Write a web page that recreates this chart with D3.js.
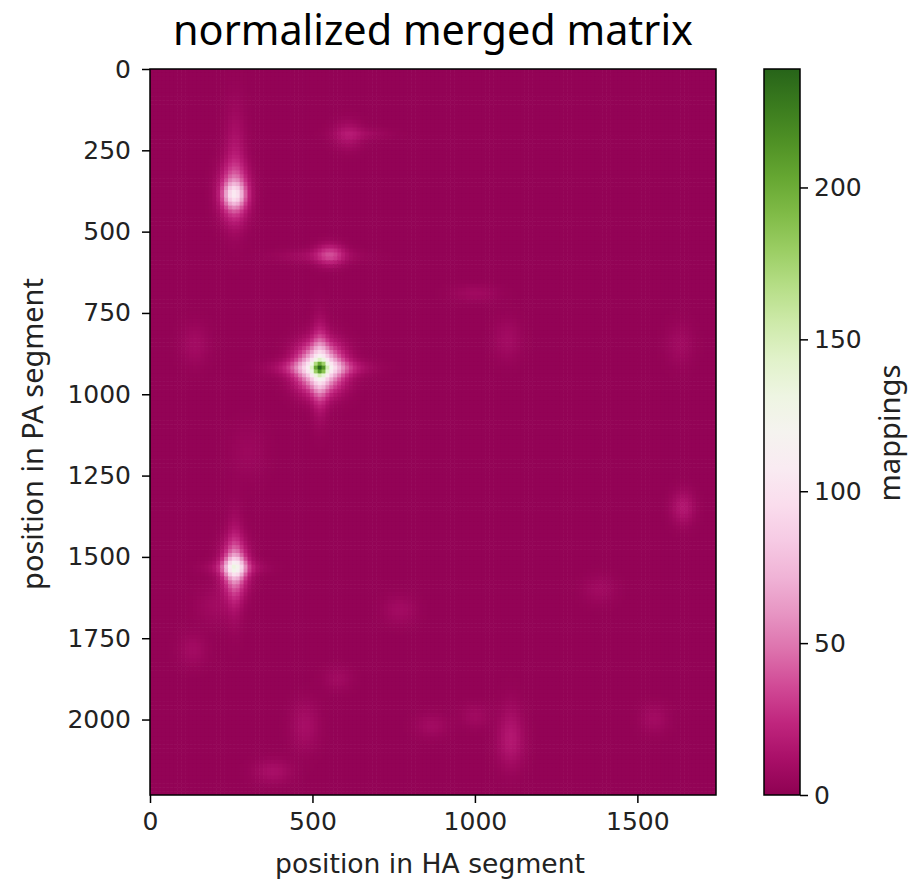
<!DOCTYPE html>
<html lang="en">
<head>
    <meta charset="UTF-8">
    <title>normalized merged matrix</title>
    <script src="https://d3js.org/d3.v7.min.js"></script>
    <style>
        body { margin: 0; background: #fff; }
        svg { display: block; }
    </style>
</head>
<body>
    <script>
        // axis extents and tick labels
        const xMax = 1742;   // HA segment length
        const yMax = 2232;   // PA segment length
        const vMax = 239;    // colour scale max (mappings)
        const xTicks = [0, 500, 1000, 1500];
        const yTicks = [0, 250, 500, 750, 1000, 1250, 1500, 1750, 2000];
        const cbTicks = [0, 50, 100, 150, 200];
        const baseValue = 2;

        // hot spots: centre (HA, PA), peak mappings, spread
        const spotX    = [523, 523, 523, 523,  259, 259, 262,  261, 261, 261, 261,  554, 520,  609, 650,  1640, 138, 1100, 1630, 1000, 477, 378, 1110, 867, 132, 578, 1552, 768, 1383, 1110, 1000, 300, 200];
        const spotY    = [919, 919, 919, 919,  387, 380, 300,  1533, 1533, 1533, 1533,  571, 575,  203, 200,  1349, 848, 833, 848, 690, 2019, 2160, 2075, 2019, 1786, 1875, 1998, 1663, 1601, 2030, 1990, 1180, 1650];
        const spotPeak = [70,  100, 38,  38,   50,  45,  14,   52,  45,  18,  16,    28,  8,    12,  6,    14,   7,   7,   6,   6,   9,   10,  9,   7,   7,   6,   7,   7,   6,   7,   6,   4,   6];
        const spotSx   = [12,  46,  78,  16,   22,  30,  22,   22,  28,  16,  55,    30,  90,   30,  60,   25,   30,  30,  30,  50,  30,  40,  30,  35,  30,  30,  30,  35,  35,  25,  30,  40,  40];
        const spotSy   = [12,  48,  16,  82,   24,  55,  120,  22,  55,  100, 15,    22,  14,   30,  12,   35,   45,  45,  45,  18,  50,  25,  55,  25,  35,  25,  30,  30,  30,  65,  25,  60,  40];

        const W = 912, H = 881;
        const plot = { left: 150, top: 69, right: 716, bottom: 795 };
        const cb = { left: 764, right: 800 };

        const svg = d3.select("body")
            .append("svg")
            .attr("width", W)
            .attr("height", H);

        const x = d3.scaleLinear().domain([0, xMax]).range([plot.left, plot.right]);
        const y = d3.scaleLinear().domain([0, yMax]).range([plot.top, plot.bottom]);
        const color = d3.scaleSequential(d3.interpolatePiYG).domain([0, vMax]);

        // build matrix cells from the spots
        const step = 12;
        const cells = [];
        for (let py = 0; py < yMax; py += step) {
            for (let px = 0; px < xMax; px += step) {
                const cx = px + step / 2, cy = py + step / 2;
                let v = baseValue;
                for (let i = 0; i < spotX.length; i++) {
                    const dx = (cx - spotX[i]) / spotSx[i];
                    const dy = (cy - spotY[i]) / spotSy[i];
                    v += spotPeak[i] * Math.exp(-0.5 * (dx * dx + dy * dy));
                }
                cells.push({ px, py, v: Math.min(v, vMax) });
            }
        }

        const defs = svg.append("defs");
        defs.append("clipPath").attr("id", "plotClip")
            .append("rect")
            .attr("x", plot.left).attr("y", plot.top)
            .attr("width", plot.right - plot.left).attr("height", plot.bottom - plot.top);

        svg.append("g")
            .attr("clip-path", "url(#plotClip)")
            .selectAll("rect")
            .data(cells)
            .join("rect")
            .attr("x", d => x(d.px))
            .attr("y", d => y(d.py))
            .attr("width", x(step) - x(0) + 0.6)
            .attr("height", y(step) - y(0) + 0.6)
            .attr("fill", d => color(d.v));

        // axes
        const tickFont = "DejaVu Sans";
        const xAxis = svg.append("g")
            .attr("transform", `translate(0,${plot.bottom})`)
            .call(d3.axisBottom(x).tickValues(xTicks).tickSize(8).tickPadding(9).tickFormat(d3.format("d")));
        const yAxis = svg.append("g")
            .attr("transform", `translate(${plot.left},0)`)
            .call(d3.axisLeft(y).tickValues(yTicks).tickSize(8).tickPadding(11).tickFormat(d3.format("d")));
        [xAxis, yAxis].forEach(a => {
            a.select(".domain").remove();
            a.selectAll(".tick line").attr("stroke", "#000").attr("stroke-width", 1.5);
            a.selectAll(".tick text").attr("fill", "#222").style("font-family", tickFont).style("font-size", "25px");
        });

        svg.append("rect")
            .attr("x", plot.left).attr("y", plot.top)
            .attr("width", plot.right - plot.left).attr("height", plot.bottom - plot.top)
            .attr("fill", "none").attr("stroke", "#000").attr("stroke-width", 1.5);

        // colorbar
        const cbScale = d3.scaleLinear().domain([0, vMax]).range([plot.bottom, plot.top]);
        const grad = defs.append("linearGradient")
            .attr("id", "cbGrad")
            .attr("x1", 0).attr("y1", 1).attr("x2", 0).attr("y2", 0);
        d3.range(0, 1.0001, 0.05).forEach(t => {
            grad.append("stop").attr("offset", t).attr("stop-color", color(t * vMax));
        });
        svg.append("rect")
            .attr("x", cb.left).attr("y", plot.top)
            .attr("width", cb.right - cb.left).attr("height", plot.bottom - plot.top)
            .attr("fill", "url(#cbGrad)")
            .attr("stroke", "#000").attr("stroke-width", 1.5);
        const cbAxis = svg.append("g")
            .attr("transform", `translate(${cb.right},0)`)
            .call(d3.axisRight(cbScale).tickValues(cbTicks).tickSize(8).tickPadding(6));
        cbAxis.select(".domain").remove();
        cbAxis.selectAll(".tick line").attr("stroke", "#000").attr("stroke-width", 1.5);
        cbAxis.selectAll(".tick text").attr("fill", "#222").style("font-family", tickFont).style("font-size", "25px");

        // fit a text element to a measured width from the picture
        function fit(sel, width) {
            const len = sel.node().getComputedTextLength();
            const fs = parseFloat(sel.style("font-size"));
            sel.style("font-size", (fs * width / len) + "px");
        }

        const title = svg.append("text")
            .attr("x", (plot.left + plot.right) / 2).attr("y", 45)
            .attr("text-anchor", "middle")
            .style("font-family", "Noto Sans").style("font-size", "36px")
            .attr("fill", "#000")
            .text("normalized merged matrix");
        fit(title, 520);

        const xLabel = svg.append("text")
            .attr("x", 430).attr("y", 873)
            .attr("text-anchor", "middle")
            .style("font-family", "DejaVu Sans").style("font-size", "25px")
            .attr("fill", "#222")
            .text("position in HA segment");
        fit(xLabel, 310);

        const yLabel = svg.append("text")
            .attr("transform", "translate(43,434) rotate(-90)")
            .attr("text-anchor", "middle")
            .style("font-family", "Noto Sans").style("font-size", "25px")
            .attr("fill", "#222")
            .text("position in PA segment");
        fit(yLabel, 312);

        const cbLabel = svg.append("text")
            .attr("transform", "translate(900,433) rotate(-90)")
            .attr("text-anchor", "middle")
            .style("font-family", "Noto Sans").style("font-size", "25px")
            .attr("fill", "#222")
            .text("mappings");
        fit(cbLabel, 137);
    </script>
</body>
</html>
